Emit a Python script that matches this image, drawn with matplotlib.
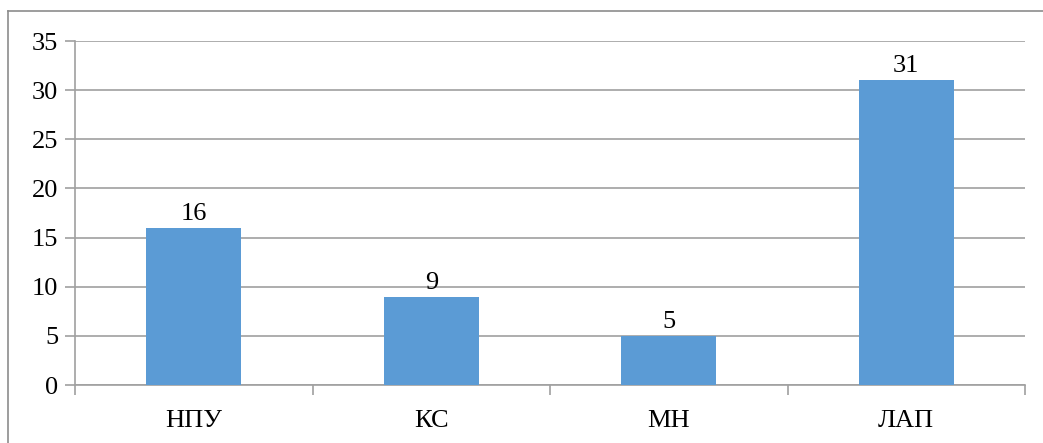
import matplotlib.pyplot as plt
from matplotlib.lines import Line2D

categories = ['НПУ', 'КС', 'МН', 'ЛАП']
values = [16, 9, 5, 31]
y_ticks = [0, 5, 10, 15, 20, 25, 30, 35]

plt.rcParams['font.family'] = ['Liberation Serif', 'DejaVu Serif']

W, H = 1043, 443
fig = plt.figure(figsize=(W / 100, H / 100), dpi=100)
ax = fig.add_axes([75 / W, 1 - 385 / H, 950 / W, (385 - 41) / H])

x = range(len(categories))
bars = ax.bar(x, values, width=0.4, color='#5B9BD5', zorder=3)
for b, v in zip(bars, values):
    ax.text(b.get_x() + b.get_width() / 2, v + 0.3, str(v),
            ha='center', va='bottom', fontsize=19, color='black', zorder=4)

ax.set_xlim(-0.5, len(categories) - 0.5)
ax.set_ylim(0, 35)
ax.set_yticks(y_ticks)
ax.set_yticklabels([str(t) for t in y_ticks])
ax.set_xticks(list(x))
ax.set_xticklabels(categories)
ax.set_xticks([i - 0.5 for i in range(len(categories) + 1)], minor=True)

grid_c = '#A0A0A0'
ax.yaxis.grid(True, color=grid_c, linewidth=1.2, zorder=0)
for side in ['top', 'right']:
    ax.spines[side].set_visible(False)
for side in ['left', 'bottom']:
    ax.spines[side].set_color(grid_c)
    ax.spines[side].set_linewidth(1.2)

ax.tick_params(axis='y', length=7, width=1.2, color=grid_c, labelsize=19, pad=5)
ax.tick_params(axis='x', which='major', length=0, labelsize=19, pad=18)
ax.tick_params(axis='x', which='minor', length=7, width=1.2, color=grid_c)

# outer chart frame (top and left edges visible)
fig.add_artist(Line2D([8 / W, 1.0], [1 - 11 / H, 1 - 11 / H],
                      transform=fig.transFigure, color='#8C8C8C', linewidth=1.2))
fig.add_artist(Line2D([8 / W, 8 / W], [0, 1 - 11 / H],
                      transform=fig.transFigure, color='#8C8C8C', linewidth=1.2))

fig.savefig('out.png', dpi=100)
